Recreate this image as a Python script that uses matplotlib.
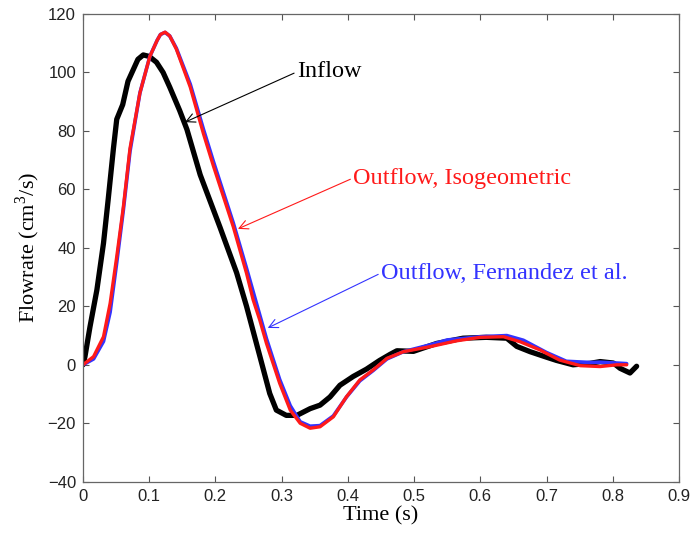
import matplotlib
matplotlib.use('Agg')
import matplotlib.pyplot as plt

# Inflow (black)
tIn = [0, 0.003, 0.0106, 0.021, 0.031, 0.038, 0.046, 0.051, 0.06, 0.068, 0.076, 0.083,
       0.091, 0.100, 0.111, 0.121, 0.131, 0.146, 0.157, 0.177, 0.207, 0.232, 0.247, 0.267,
       0.282, 0.292, 0.307, 0.323, 0.343, 0.358, 0.373, 0.388, 0.408, 0.428, 0.448, 0.464,
       0.474, 0.499, 0.534, 0.574, 0.609, 0.640, 0.655, 0.675, 0.700, 0.715, 0.740, 0.766,
       0.781, 0.801, 0.811, 0.826, 0.836]
qIn = [0, 2.8, 13.0, 25.6, 41.6, 56.4, 74, 84, 89, 97, 101, 104.5,
       106, 105.5, 103.5, 100, 95, 87, 80.5, 65, 47, 31.5, 20, 3,
       -9.8, -15.5, -17.3, -17.3, -15, -13.8, -11, -7, -4, -1.5, 1.5, 3.6,
       4.8, 4.6, 7.3, 9.1, 9.4, 9.1, 6.3, 4.5, 2.6, 1.5, 0, 0.5,
       1.1, 0.6, -1.2, -2.8, -0.5]

# Outflow, isogeometric (red)
tIso = [0, 0.016, 0.031, 0.041, 0.051, 0.061, 0.071, 0.086, 0.101, 0.112, 0.117, 0.124,
        0.131, 0.141, 0.162, 0.182, 0.197, 0.227, 0.247, 0.257, 0.267, 0.277, 0.297, 0.313,
        0.328, 0.343, 0.358, 0.378, 0.398, 0.418, 0.438, 0.459, 0.484, 0.524, 0.564, 0.600,
        0.635, 0.660, 0.690, 0.700, 0.720, 0.751, 0.781, 0.806, 0.821]
qIso = [0, 2.8, 9.6, 21, 37, 54, 74, 93, 105.5, 111, 113, 113.8,
        112.5, 108, 95, 79, 68, 47.2, 31.3, 22.2, 15.3, 7.4, -6.3, -15.5,
        -20, -21.7, -21.2, -17.8, -10.9, -5.2, -1.8, 2.2, 4.5, 6.2, 8.2, 9.4,
        9.6, 7.9, 5.1, 3.9, 1.6, -0.3, -0.6, 0, 0]

# Outflow, Fernandez et al. (blue)
tFer = [0, 0.016, 0.031, 0.041, 0.051, 0.061, 0.071, 0.086, 0.101, 0.112, 0.117, 0.124,
        0.131, 0.141, 0.162, 0.182, 0.197, 0.227, 0.247, 0.267, 0.277, 0.297, 0.313, 0.328,
        0.343, 0.358, 0.378, 0.398, 0.418, 0.438, 0.459, 0.484, 0.524, 0.55, 0.600, 0.640,
        0.665, 0.700, 0.730, 0.766, 0.781, 0.806, 0.821]
qFer = [0, 2, 8, 18, 35, 53, 73, 93, 105.5, 111, 113, 113.7,
        112.5, 108.3, 96, 80.5, 69.5, 48.5, 33, 17, 9, -5, -14, -19.5,
        -21, -20.8, -17.5, -11, -5.5, -2, 2, 4.5, 6.8, 8.5, 9.6, 10,
        8.4, 4.2, 1.2, 0.8, 0.9, 0.6, 0.4]

serif = 'Liberation Serif'
sans = 'Liberation Sans'
plt.rcParams['mathtext.fontset'] = 'custom'
plt.rcParams['mathtext.rm'] = serif

fig = plt.figure(figsize=(6.92, 5.33), dpi=100)
ax = fig.add_axes([0.1199, 0.0962, 0.8613, 0.8775])

ax.plot(tIn, qIn, color='black', lw=3.8, solid_joinstyle='round', solid_capstyle='round')
ax.plot(tFer, qFer, color='#3333ff', lw=2.6, solid_joinstyle='round', solid_capstyle='round')
ax.plot(tIso, qIso, color='#ff1a1a', lw=2.4, solid_joinstyle='round', solid_capstyle='round')

ax.set_xlim(0, 0.9)
ax.set_ylim(-40, 120)
ax.set_xticks([0, 0.1, 0.2, 0.3, 0.4, 0.5, 0.6, 0.7, 0.8, 0.9])
ax.set_xticklabels(['0', '0.1', '0.2', '0.3', '0.4', '0.5', '0.6', '0.7', '0.8', '0.9'])
ax.set_yticks(range(-40, 121, 20))
ax.set_yticklabels(['\u221240', '\u221220', '0', '20', '40', '60', '80', '100', '120'])
ax.tick_params(direction='in', top=True, right=True, length=4, width=0.8,
               color='#555555', labelsize=12, labelcolor='#222222', pad=5)
for lab in ax.get_xticklabels() + ax.get_yticklabels():
    lab.set_family(sans)
for s in ax.spines.values():
    s.set_color('#666666')
    s.set_linewidth(0.9)

ax.set_xlabel('Time (s)', family=serif, fontsize=16, labelpad=2)
ax.set_ylabel('Flowrate (cm$^3$/s)', family=serif, fontsize=16, labelpad=4)

# annotations: text, arrow tip, text anchor, colour
notes = [
    ('Inflow', (0.154, 83.0), (0.323, 100.2), 'black'),
    ('Outflow, Isogeometric', (0.234, 46.5), (0.408, 63.9), '#ff1a1a'),
    ('Outflow, Fernandez et al.', (0.279, 12.6), (0.450, 31.4), '#3333ff'),
]
for txt, tip, anchor, col in notes:
    ax.annotate(txt, xy=tip, xytext=anchor, color=col,
                family=serif, fontsize=17.5, ha='left', va='center',
                arrowprops=dict(arrowstyle='->', color=col, lw=0.8, relpos=(0, 0.5),
                                shrinkA=0, shrinkB=0, mutation_scale=16))

fig.savefig('out.png', dpi=100)
